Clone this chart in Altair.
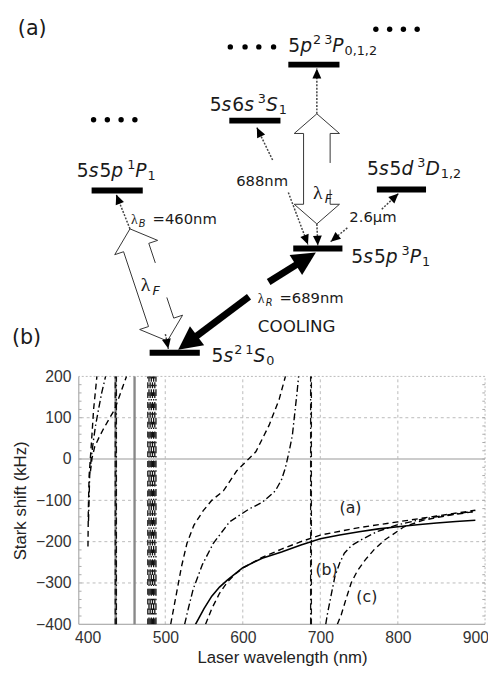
import math
import altair as alt
import pandas as pd

# ===================== (b) Stark shift curves: wavelength (nm) / shift (kHz) =====================
solid_nm = [539, 550, 560, 570, 580, 590, 600, 625, 650, 675, 700, 725, 750, 775, 800, 825, 850, 875, 900]
solid_khz = [-400, -362, -332, -310, -293, -278, -263, -240, -225, -208, -193, -184, -176, -169, -164, -159, -155, -151, -148]

dashA_nm = [552, 560, 570, 580, 590, 600, 625, 650, 675, 700, 750, 800, 850, 900]
dashA_khz = [-400, -362, -325, -298, -279, -264, -238, -218, -200, -184, -166, -152, -138, -124]

dotB_nm = [707, 709, 715, 719, 725, 731, 740, 752, 773, 798, 833, 866, 900]
dotB_khz = [-400, -377, -320, -283, -252, -228, -210, -196, -176, -160, -145, -135, -126]

dashC_nm = [722, 727, 733, 740, 748, 758, 770, 783, 808, 833, 866, 900]
dashC_khz = [-400, -377, -340, -299, -270, -244, -218, -196, -164, -148, -136, -127]

dotMid_nm = [525, 530, 536, 548, 562, 583, 608, 625, 642, 650, 655, 660, 664, 667, 670, 672]
dotMid_khz = [-400, -360, -315, -255, -204, -152, -121, -105, -77, -50, -21, 20, 58, 110, 161, 200]

dashMid_nm = [507, 511, 515.5, 521, 528, 537, 549, 560, 575, 592, 617, 634, 647, 655]
dashMid_khz = [-400, -360, -315, -260, -204, -160, -125, -100, -77, -29, 18, 82, 145, 200]

dashL1_nm = [400.3, 400.8, 401.8, 403.4, 405.5, 407.6, 410, 411.8]
dashL1_khz = [-212, -120, -40, 2, 60, 121, 165, 200]
dotL2_nm = [401, 402.5, 404.5, 407, 410, 414, 418, 423]
dotL2_khz = [-150, -40, 2, 40, 80, 121, 160, 200]
dashL3_nm = [403.5, 405.5, 409, 414, 420, 427, 435, 442, 450]
dashL3_khz = [-30, 2, 30, 50, 72, 95, 121, 158, 200]

# resonance (asymptote) lines, nm
vl_gray_nm = [436.0, 460.4]
vl_dash_nm = [435.5, 477.5, 480.5, 483.5, 486.5, 688.5]
vl_dashdot_nm = [437.0, 479.0, 482.0, 485.0, 488.0, 687.5]

curve_tags = ["(a)", "(b)", "(c)"]
curve_tag_nm = [739, 708, 760]
curve_tag_khz = [-119, -270, -333]

x_ticks = [400, 500, 600, 700, 800, 900]
y_ticks = [-400, -300, -200, -100, 0, 100, 200]
x_grid = [500, 600, 700, 800]
y_grid = [100, -100, -200, -300]
X_DOM = [388.5, 912.5]
Y_DOM = [-400, 200]

# ===================== (a) level diagram (diagram units) =====================
level_names = ["5p2 3P", "5s6s 3S1", "5s5p 1P1", "5s5d 3D", "5s5p 3P1", "5s2 1S0"]
level_x1 = [293, 233, 93, 383, 298, 152]
level_x2 = [345, 285, 145, 433, 348, 203]
level_y = [60, 117, 188, 187, 247, 353]

dots_x = [234, 249, 263, 278, 382, 396, 410, 424, 95, 109, 123, 137]
dots_y = [42, 42, 42, 42, 24, 24, 24, 24, 116, 116, 116, 116]

# level labels: (left, baseline, pieces)
level_labels = [
    (293, 47, [("5", "n"), ("p", "i"), ("2", "sup"), (3, "gap"), ("3", "sup"), ("P", "i"), ("0,1,2", "sub")]),
    (213, 107, [("5", "n"), ("s", "i"), ("6", "n"), ("s", "i"), (3, "gap"), ("3", "sup"), ("S", "i"), ("1", "sub")]),
    (78, 174, [("5", "n"), ("s", "i"), ("5", "n"), ("p", "i"), (3, "gap"), ("1", "sup"), ("P", "i"), ("1", "sub")]),
    (373, 172, [("5", "n"), ("s", "i"), ("5", "n"), ("d", "i"), (3, "gap"), ("3", "sup"), ("D", "i"), ("1,2", "sub")]),
    (357, 262, [("5", "n"), ("s", "i"), ("5", "n"), ("p", "i"), (3, "gap"), ("3", "sup"), ("P", "i"), ("1", "sub")]),
    (215, 362, [("5", "n"), ("s", "i"), ("2", "sup"), (3, "gap"), ("1", "sup"), ("S", "i"), ("0", "sub")]),
]

ann_text = ["688nm", "=460nm", "=689nm", "COOLING", "2.6\u00b5m", "(a)", "(b)"]
ann_x = [240, 155, 284, 262, 355, 18, 12]
ann_y = [183, 222, 302, 332, 220, 30, 344]
ann_size = [15, 15, 15, 17, 15, 21, 21]

lam_x = [143, 318, 133, 262]
lam_y = [290, 197, 222, 302]
lam_size = [20, 20, 14, 14]
lam_sub = ["F", "F", "B", "R"]
lam_sub_x = [155, 330, 141, 270]
lam_sub_y = [294, 201, 225, 305]
lam_sub_size = [13, 13, 10, 10]

# thin dotted transition lines (start -> arrow tip)
dot_x1 = [132, 168, 277, 293, 322, 322, 388, 353]
dot_y1 = [227, 334, 157, 190, 110, 222, 207, 226]
dot_x2 = [118, 171, 261, 313, 322, 323, 405, 336]
dot_y2 = [192, 349, 124, 243, 64, 244, 191, 240]

# thick cooling arrow (start -> tip)
cool_x1 = [273, 253]
cool_y1 = [281, 296]
cool_x2 = [321, 181]
cool_y2 = [251, 350]

# hollow double arrows (top apex, bottom apex)
hollow_top = [(132, 227), (322, 110)]
hollow_bot = [(170, 341), (322, 222)]
hollow_gap = [(41, 78), (50, 77)]

# ------------------------------------------------------------------
FONT = "DejaVu Sans"
AXFONT = "Liberation Sans"
CW = {c: .636 for c in "0123456789"}
CW.update({'s': .521, 'p': .635, 'd': .635, 'P': .603, 'S': .635, 'D': .770, ',': .318, '.': .318})


def tw(s, size):
    return sum(CW.get(c, .6) for c in s) * size


def pieces(x0, base, parts, main=19, small=13):
    out = []
    x = x0
    for t, kind in parts:
        if kind == "gap":
            x += t
            continue
        size = main if kind in ("n", "i") else small
        dy = {"n": 0, "i": 0, "sup": -8, "sub": 3}[kind]
        out.append(dict(x=x, y=base + dy, text=t, size=size, style="i" if kind == "i" else "n"))
        x += tw(t, size) + (1 if kind == "i" else 0)
    return out


sx = alt.Scale(domain=X_DOM, nice=False, zero=False)
sy = alt.Scale(domain=Y_DOM, range=[621, 369], nice=False, zero=False)
x_axis = alt.Axis(values=x_ticks, title="Laser wavelength (nm)", grid=False, ticks=False, domain=False,
                  labelFont=AXFONT, labelFontSize=16, labelColor="#333", labelPadding=6,
                  titleFont=AXFONT, titleFontSize=17, titleFontWeight="normal", titleColor="#222",
                  titleY=34, titleBaseline="middle")
y_axis = alt.Axis(values=y_ticks, title="Stark shift (kHz)", grid=False, ticks=False, domain=False,
                  labelFont=AXFONT, labelFontSize=16, labelColor="#333", labelPadding=8,
                  labelExpr="datum.value < 0 ? '\u2212' + format(-datum.value, 'd') : datum.label",
                  titleFont=AXFONT, titleFontSize=17, titleFontWeight="normal", titleColor="#222",
                  titleX=-59, titleY=495, titleBaseline="middle", titleAlign="center")


def X(f):
    return alt.X(f, type="quantitative", scale=sx, axis=x_axis)


def Y(f):
    return alt.Y(f, type="quantitative", scale=sy, axis=y_axis)


DASH = [6, 4]
DASHDOT = [7, 3, 1.5, 3]

stark_layers = []

# grid
hg = pd.DataFrame({"k": y_grid})
stark_layers.append(alt.Chart(hg).mark_rule(color="#bbb", strokeWidth=1, strokeDash=[3, 3]).encode(y=Y("k")))
stark_layers.append(alt.Chart(pd.DataFrame({"k": [0]})).mark_rule(color="#999", strokeWidth=1.2).encode(y=Y("k")))
vg = pd.DataFrame({"nm": x_grid, "lo": Y_DOM[0], "hi": Y_DOM[1]})
stark_layers.append(alt.Chart(vg).mark_rule(color="#bbb", strokeWidth=1, strokeDash=[3, 3]).encode(
    x=X("nm"), y=Y("lo"), y2="hi"))
# frame
stark_layers.append(alt.Chart(pd.DataFrame({"k": [Y_DOM[1]]})).mark_rule(color="#bbb", strokeDash=[2, 2]).encode(y=Y("k")))
stark_layers.append(alt.Chart(pd.DataFrame({"nm": [X_DOM[1]], "lo": Y_DOM[0], "hi": Y_DOM[1]})).mark_rule(
    color="#bbb", strokeDash=[2, 2]).encode(x=X("nm"), y=Y("lo"), y2="hi"))
stark_layers.append(alt.Chart(pd.DataFrame({"nm": [X_DOM[0]], "lo": Y_DOM[0], "hi": Y_DOM[1]})).mark_rule(
    color="#999").encode(x=X("nm"), y=Y("lo"), y2="hi"))
stark_layers.append(alt.Chart(pd.DataFrame({"k": [Y_DOM[0]]})).mark_rule(color="#999").encode(y=Y("k")))
# minor ticks left/right every 20 kHz
mt = [v for v in range(-380, 200, 20)]
mtl = pd.DataFrame({"k": mt, "a": X_DOM[0], "b": X_DOM[0] + 3.5})
mtr = pd.DataFrame({"k": mt, "a": X_DOM[1] - 3.5, "b": X_DOM[1]})
for d in (mtl, mtr):
    stark_layers.append(alt.Chart(d).mark_rule(color="#aaa").encode(x=X("a"), x2="b", y=Y("k")))


# asymptotes
def vlines(vals, color, width, dash=None):
    d = pd.DataFrame({"nm": vals, "lo": Y_DOM[0], "hi": Y_DOM[1]})
    kw = dict(color=color, strokeWidth=width)
    if dash:
        kw["strokeDash"] = dash
    return alt.Chart(d).mark_rule(**kw).encode(x=X("nm"), y=Y("lo"), y2="hi")


stark_layers.append(vlines(vl_gray_nm, "#888", 2.4))
stark_layers.append(vlines(vl_dash_nm, "#111", 1.3, DASH))
stark_layers.append(vlines(vl_dashdot_nm, "#111", 1.3, DASHDOT))


def curve(nm, khz, dash=None, width=1.4):
    d = pd.DataFrame({"nm": nm, "khz": khz, "i": range(len(nm))})
    kw = dict(color="black", strokeWidth=width, clip=True)
    if dash:
        kw["strokeDash"] = dash
    return alt.Chart(d).mark_line(**kw).encode(x=X("nm"), y=Y("khz"), order="i:Q")


stark_layers += [
    curve(solid_nm, solid_khz, None, 1.6),
    curve(dashA_nm, dashA_khz, DASH),
    curve(dotB_nm, dotB_khz, DASHDOT),
    curve(dashC_nm, dashC_khz, DASH),
    curve(dotMid_nm, dotMid_khz, DASHDOT),
    curve(dashMid_nm, dashMid_khz, DASH),
    curve(dashL1_nm, dashL1_khz, DASH),
    curve(dotL2_nm, dotL2_khz, DASHDOT),
    curve(dashL3_nm, dashL3_khz, DASH),
]
tags = pd.DataFrame({"nm": curve_tag_nm, "khz": curve_tag_khz, "t": curve_tags})
stark_layers.append(alt.Chart(tags).mark_text(font=FONT, fontSize=16, color="#222", align="center",
                                              baseline="middle").encode(x=X("nm"), y=Y("khz"), text="t:N"))

stark = alt.layer(*stark_layers)

# ===================== diagram layer =====================
dxs = alt.Scale(domain=[80, 493], nice=False, zero=False)
dys = alt.Scale(domain=[8, 629], range=[0, 621], nice=False, zero=False)


def DX(f):
    return alt.X(f, type="quantitative", scale=dxs, axis=None)


def DY(f):
    return alt.Y(f, type="quantitative", scale=dys, axis=None)


dlayers = []
lev = pd.DataFrame({"name": level_names, "x1": level_x1, "x2": level_x2, "y": level_y})
dlayers.append(alt.Chart(lev).mark_rule(color="black", strokeWidth=6, strokeCap="butt").encode(
    x=DX("x1"), x2="x2", y=DY("y")))
dots = pd.DataFrame({"x": dots_x, "y": dots_y})
dlayers.append(alt.Chart(dots).mark_circle(color="black", size=30, opacity=1).encode(x=DX("x"), y=DY("y")))

# hollow arrows
rows = []
for k, (T, B) in enumerate(zip(hollow_top, hollow_bot)):
    ddx, ddy = B[0] - T[0], B[1] - T[1]
    L = math.hypot(ddx, ddy)
    u = (ddx / L, ddy / L)
    n = (u[1], -u[0])
    hl, hh, sh = 20, 23, 13.5
    g0, g1 = hollow_gap[k]
    local = [(g0, sh), (hl, sh), (hl, hh), (0, 0), (hl, -hh), (hl, -sh), (L - hl, -sh), (L - hl, -hh),
             (L, 0), (L - hl, hh), (L - hl, sh), (g1, sh)]
    for i, (s, t) in enumerate(local):
        rows.append(dict(seg=k, i=i, x=T[0] + s * u[0] + t * n[0], y=T[1] + s * u[1] + t * n[1]))
hol = pd.DataFrame(rows)
dlayers.append(alt.Chart(hol).mark_line(color="#333", strokeWidth=1).encode(
    x=DX("x"), y=DY("y"), detail="seg:N", order="i:Q"))

# dotted transition lines
dl = pd.DataFrame({"x1": dot_x1, "y1": dot_y1, "x2": dot_x2, "y2": dot_y2})
dlayers.append(alt.Chart(dl).mark_rule(color="#444", strokeWidth=1.5, strokeDash=[2, 1.5]).encode(
    x=DX("x1"), y=DY("y1"), x2="x2", y2="y2"))

# cooling shafts (stop short of tips)
cs = []
for a, b, c, d in zip(cool_x1, cool_y1, cool_x2, cool_y2):
    L = math.hypot(c - a, d - b)
    cs.append(dict(x1=a, y1=b, x2=c - (c - a) / L * 18, y2=d - (d - b) / L * 18))
dlayers.append(alt.Chart(pd.DataFrame(cs)).mark_rule(color="black", strokeWidth=7, strokeCap="butt").encode(
    x=DX("x1"), y=DY("y1"), x2="x2", y2="y2"))


def heads(x1, y1, x2, y2):
    ang = [(math.degrees(math.atan2(c - a, -(d - b))) + 360) % 360 for a, b, c, d in zip(x1, y1, x2, y2)]
    return pd.DataFrame({"x": x2, "y": y2, "ang": ang})


small_head = "M0,0L-0.45,1L0.45,1Z"
big_head = "M0,0L-0.5,1L0.5,1Z"
dlayers.append(alt.Chart(heads(dot_x1, dot_y1, dot_x2, dot_y2)).mark_point(
    shape=small_head, filled=True, color="black", opacity=1, size=400, strokeWidth=0).encode(
    x=DX("x"), y=DY("y"), angle=alt.Angle("ang:Q", scale=None)))
dlayers.append(alt.Chart(heads(cool_x1, cool_y1, cool_x2, cool_y2)).mark_point(
    shape=big_head, filled=True, color="black", opacity=1, size=2304, strokeWidth=0).encode(
    x=DX("x"), y=DY("y"), angle=alt.Angle("ang:Q", scale=None)))

# texts
allp = []
for x0, base, parts in level_labels:
    allp += pieces(x0, base, parts)
for t, x, y, s in zip(ann_text, ann_x, ann_y, ann_size):
    allp.append(dict(x=x, y=y, text=t, size=s, style="n"))
for t, x, y, s in zip(lam_sub, lam_sub_x, lam_sub_y, lam_sub_size):
    allp.append(dict(x=x, y=y, text=t, size=s, style="i"))
tp = pd.DataFrame(allp)
for style, fs in (("n", "normal"), ("i", "italic")):
    sub = tp[tp["style"] == style]
    dlayers.append(alt.Chart(sub).mark_text(font=FONT, fontStyle=fs, color="#1a1a1a", align="left",
                                            baseline="alphabetic").encode(
        x=DX("x"), y=DY("y"), text="text:N", size=alt.Size("size:Q", scale=None)))
lam = pd.DataFrame({"x": lam_x, "y": lam_y, "s": lam_size, "t": ["\u03bb"] * len(lam_x)})
dlayers.append(alt.Chart(lam).mark_text(font="Liberation Serif", color="#1a1a1a", align="left",
                                        baseline="alphabetic").encode(
    x=DX("x"), y=DY("y"), text="t:N", size=alt.Size("s:Q", scale=None)))

diagram = alt.layer(*dlayers)

chart = alt.layer(stark, diagram).resolve_scale(x="independent", y="independent").properties(
    width=413, height=621,
    autosize=alt.AutoSizeParams(type="none"),
    padding={"left": 72, "top": 0, "right": 3, "bottom": 45},
    background="white",
).configure_view(stroke=None)

chart.save("out.html", embed_options={"renderer": "svg", "actions": False})
